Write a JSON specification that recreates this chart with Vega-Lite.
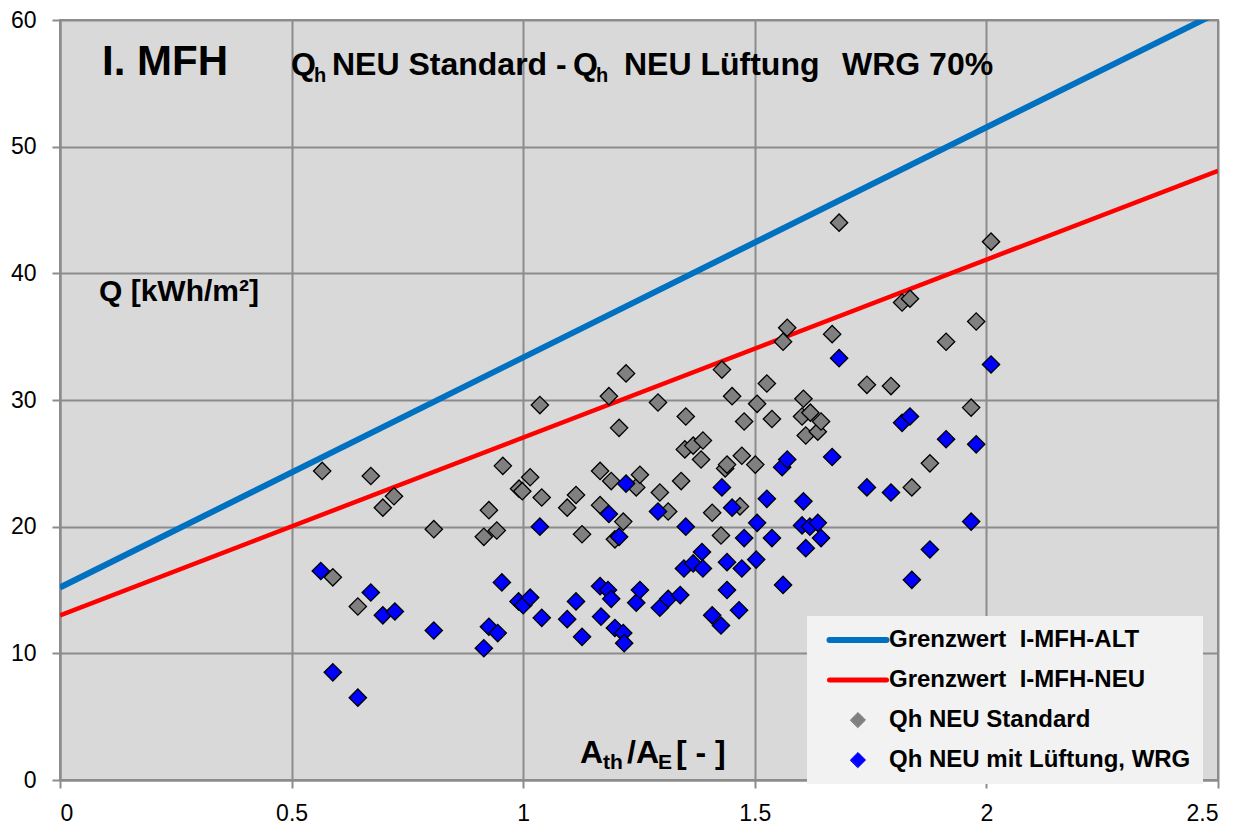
{
  "$schema": "https://vega.github.io/schema/vega-lite/v6.json",
  "width": 1158,
  "height": 760,
  "autosize": {"type": "none"},
  "padding": {"left": 60, "top": 20, "right": 29, "bottom": 45},
  "background": "white",
  "config": {
    "font": "Liberation Sans",
    "view": {"fill": "#d9d9d9", "stroke": "#8c8c8c", "strokeWidth": 2},
    "axis": {
      "domainColor": "#8c8c8c", "domainWidth": 2,
      "gridColor": "#8c8c8c", "gridWidth": 2, "gridOpacity": 1,
      "tickColor": "#8c8c8c", "tickWidth": 2, "tickSize": 8,
      "labelFont": "Liberation Sans", "labelFontSize": 23, "labelColor": "black",
      "title": null
    }
  },
  "datasets": {
    "lines": [
      {"series": "Grenzwert\u00a0 I-MFH-ALT", "x": 0, "y": 15.2},
      {"series": "Grenzwert\u00a0 I-MFH-ALT", "x": 2.5, "y": 60.6},
      {"series": "Grenzwert\u00a0 I-MFH-NEU", "x": 0, "y": 13.0},
      {"series": "Grenzwert\u00a0 I-MFH-NEU", "x": 2.5, "y": 48.1}
    ],
    "pts": [
      {"series": "Qh NEU Standard", "x": 0.566, "y": 24.4},
      {"series": "Qh NEU Standard", "x": 0.589, "y": 16.0},
      {"series": "Qh NEU Standard", "x": 0.643, "y": 13.7},
      {"series": "Qh NEU Standard", "x": 0.671, "y": 24.0},
      {"series": "Qh NEU Standard", "x": 0.697, "y": 21.5},
      {"series": "Qh NEU Standard", "x": 0.721, "y": 22.4},
      {"series": "Qh NEU Standard", "x": 0.807, "y": 19.8},
      {"series": "Qh NEU Standard", "x": 0.915, "y": 19.2},
      {"series": "Qh NEU Standard", "x": 0.926, "y": 21.3},
      {"series": "Qh NEU Standard", "x": 0.943, "y": 19.7},
      {"series": "Qh NEU Standard", "x": 0.956, "y": 24.8},
      {"series": "Qh NEU Standard", "x": 0.991, "y": 23.0},
      {"series": "Qh NEU Standard", "x": 0.998, "y": 22.8},
      {"series": "Qh NEU Standard", "x": 1.015, "y": 23.9},
      {"series": "Qh NEU Standard", "x": 1.036, "y": 29.6},
      {"series": "Qh NEU Standard", "x": 1.04, "y": 22.3},
      {"series": "Qh NEU Standard", "x": 1.095, "y": 21.5},
      {"series": "Qh NEU Standard", "x": 1.114, "y": 22.5},
      {"series": "Qh NEU Standard", "x": 1.127, "y": 19.4},
      {"series": "Qh NEU Standard", "x": 1.166, "y": 24.4},
      {"series": "Qh NEU Standard", "x": 1.166, "y": 21.7},
      {"series": "Qh NEU Standard", "x": 1.185, "y": 30.3},
      {"series": "Qh NEU Standard", "x": 1.19, "y": 23.6},
      {"series": "Qh NEU Standard", "x": 1.198, "y": 19.0},
      {"series": "Qh NEU Standard", "x": 1.207, "y": 27.8},
      {"series": "Qh NEU Standard", "x": 1.216, "y": 20.4},
      {"series": "Qh NEU Standard", "x": 1.222, "y": 32.1},
      {"series": "Qh NEU Standard", "x": 1.244, "y": 23.1},
      {"series": "Qh NEU Standard", "x": 1.252, "y": 24.1},
      {"series": "Qh NEU Standard", "x": 1.291, "y": 29.8},
      {"series": "Qh NEU Standard", "x": 1.295, "y": 22.7},
      {"series": "Qh NEU Standard", "x": 1.313, "y": 21.2},
      {"series": "Qh NEU Standard", "x": 1.341, "y": 23.6},
      {"series": "Qh NEU Standard", "x": 1.351, "y": 28.7},
      {"series": "Qh NEU Standard", "x": 1.349, "y": 26.1},
      {"series": "Qh NEU Standard", "x": 1.367, "y": 26.4},
      {"series": "Qh NEU Standard", "x": 1.388, "y": 26.8},
      {"series": "Qh NEU Standard", "x": 1.384, "y": 25.3},
      {"series": "Qh NEU Standard", "x": 1.408, "y": 21.1},
      {"series": "Qh NEU Standard", "x": 1.427, "y": 19.3},
      {"series": "Qh NEU Standard", "x": 1.429, "y": 32.4},
      {"series": "Qh NEU Standard", "x": 1.436, "y": 24.6},
      {"series": "Qh NEU Standard", "x": 1.44, "y": 24.9},
      {"series": "Qh NEU Standard", "x": 1.451, "y": 30.3},
      {"series": "Qh NEU Standard", "x": 1.468, "y": 21.6},
      {"series": "Qh NEU Standard", "x": 1.472, "y": 25.6},
      {"series": "Qh NEU Standard", "x": 1.477, "y": 28.3},
      {"series": "Qh NEU Standard", "x": 1.501, "y": 24.9},
      {"series": "Qh NEU Standard", "x": 1.505, "y": 29.7},
      {"series": "Qh NEU Standard", "x": 1.526, "y": 31.3},
      {"series": "Qh NEU Standard", "x": 1.537, "y": 28.5},
      {"series": "Qh NEU Standard", "x": 1.561, "y": 34.6},
      {"series": "Qh NEU Standard", "x": 1.57, "y": 35.7},
      {"series": "Qh NEU Standard", "x": 1.605, "y": 30.1},
      {"series": "Qh NEU Standard", "x": 1.602, "y": 28.7},
      {"series": "Qh NEU Standard", "x": 1.61, "y": 27.2},
      {"series": "Qh NEU Standard", "x": 1.62, "y": 29.0},
      {"series": "Qh NEU Standard", "x": 1.636, "y": 27.5},
      {"series": "Qh NEU Standard", "x": 1.643, "y": 28.3},
      {"series": "Qh NEU Standard", "x": 1.667, "y": 35.2},
      {"series": "Qh NEU Standard", "x": 1.682, "y": 44.0},
      {"series": "Qh NEU Standard", "x": 1.742, "y": 31.2},
      {"series": "Qh NEU Standard", "x": 1.794, "y": 31.1},
      {"series": "Qh NEU Standard", "x": 1.818, "y": 37.7},
      {"series": "Qh NEU Standard", "x": 1.835, "y": 38.0},
      {"series": "Qh NEU Standard", "x": 1.839, "y": 23.1},
      {"series": "Qh NEU Standard", "x": 1.878, "y": 25.0},
      {"series": "Qh NEU Standard", "x": 1.913, "y": 34.6},
      {"series": "Qh NEU Standard", "x": 1.967, "y": 29.4},
      {"series": "Qh NEU Standard", "x": 1.978, "y": 36.2},
      {"series": "Qh NEU Standard", "x": 2.01, "y": 42.5},
      {"series": "Qh NEU mit Lüftung, WRG", "x": 0.563, "y": 16.5},
      {"series": "Qh NEU mit Lüftung, WRG", "x": 0.589, "y": 8.5},
      {"series": "Qh NEU mit Lüftung, WRG", "x": 0.643, "y": 6.5},
      {"series": "Qh NEU mit Lüftung, WRG", "x": 0.671, "y": 14.8},
      {"series": "Qh NEU mit Lüftung, WRG", "x": 0.697, "y": 13.0},
      {"series": "Qh NEU mit Lüftung, WRG", "x": 0.723, "y": 13.3},
      {"series": "Qh NEU mit Lüftung, WRG", "x": 0.807, "y": 11.8},
      {"series": "Qh NEU mit Lüftung, WRG", "x": 0.915, "y": 10.4},
      {"series": "Qh NEU mit Lüftung, WRG", "x": 0.926, "y": 12.1},
      {"series": "Qh NEU mit Lüftung, WRG", "x": 0.945, "y": 11.6},
      {"series": "Qh NEU mit Lüftung, WRG", "x": 0.954, "y": 15.6},
      {"series": "Qh NEU mit Lüftung, WRG", "x": 0.99, "y": 14.1},
      {"series": "Qh NEU mit Lüftung, WRG", "x": 1.0, "y": 13.8},
      {"series": "Qh NEU mit Lüftung, WRG", "x": 1.015, "y": 14.4},
      {"series": "Qh NEU mit Lüftung, WRG", "x": 1.036, "y": 20.0},
      {"series": "Qh NEU mit Lüftung, WRG", "x": 1.04, "y": 12.8},
      {"series": "Qh NEU mit Lüftung, WRG", "x": 1.095, "y": 12.7},
      {"series": "Qh NEU mit Lüftung, WRG", "x": 1.114, "y": 14.1},
      {"series": "Qh NEU mit Lüftung, WRG", "x": 1.127, "y": 11.3},
      {"series": "Qh NEU mit Lüftung, WRG", "x": 1.166, "y": 15.3},
      {"series": "Qh NEU mit Lüftung, WRG", "x": 1.168, "y": 12.9},
      {"series": "Qh NEU mit Lüftung, WRG", "x": 1.183, "y": 15.0},
      {"series": "Qh NEU mit Lüftung, WRG", "x": 1.185, "y": 21.0},
      {"series": "Qh NEU mit Lüftung, WRG", "x": 1.19, "y": 14.3},
      {"series": "Qh NEU mit Lüftung, WRG", "x": 1.198, "y": 12.0},
      {"series": "Qh NEU mit Lüftung, WRG", "x": 1.207, "y": 19.2},
      {"series": "Qh NEU mit Lüftung, WRG", "x": 1.216, "y": 11.6},
      {"series": "Qh NEU mit Lüftung, WRG", "x": 1.218, "y": 10.8},
      {"series": "Qh NEU mit Lüftung, WRG", "x": 1.222, "y": 23.4},
      {"series": "Qh NEU mit Lüftung, WRG", "x": 1.244, "y": 14.0},
      {"series": "Qh NEU mit Lüftung, WRG", "x": 1.252, "y": 15.0},
      {"series": "Qh NEU mit Lüftung, WRG", "x": 1.291, "y": 21.2},
      {"series": "Qh NEU mit Lüftung, WRG", "x": 1.295, "y": 13.6},
      {"series": "Qh NEU mit Lüftung, WRG", "x": 1.313, "y": 14.3},
      {"series": "Qh NEU mit Lüftung, WRG", "x": 1.339, "y": 14.6},
      {"series": "Qh NEU mit Lüftung, WRG", "x": 1.347, "y": 16.7},
      {"series": "Qh NEU mit Lüftung, WRG", "x": 1.351, "y": 20.0},
      {"series": "Qh NEU mit Lüftung, WRG", "x": 1.367, "y": 17.1},
      {"series": "Qh NEU mit Lüftung, WRG", "x": 1.386, "y": 18.0},
      {"series": "Qh NEU mit Lüftung, WRG", "x": 1.388, "y": 16.7},
      {"series": "Qh NEU mit Lüftung, WRG", "x": 1.408, "y": 13.0},
      {"series": "Qh NEU mit Lüftung, WRG", "x": 1.427, "y": 12.2},
      {"series": "Qh NEU mit Lüftung, WRG", "x": 1.429, "y": 23.1},
      {"series": "Qh NEU mit Lüftung, WRG", "x": 1.44, "y": 17.2},
      {"series": "Qh NEU mit Lüftung, WRG", "x": 1.44, "y": 15.0},
      {"series": "Qh NEU mit Lüftung, WRG", "x": 1.451, "y": 21.5},
      {"series": "Qh NEU mit Lüftung, WRG", "x": 1.466, "y": 13.4},
      {"series": "Qh NEU mit Lüftung, WRG", "x": 1.472, "y": 16.7},
      {"series": "Qh NEU mit Lüftung, WRG", "x": 1.477, "y": 19.1},
      {"series": "Qh NEU mit Lüftung, WRG", "x": 1.503, "y": 17.4},
      {"series": "Qh NEU mit Lüftung, WRG", "x": 1.505, "y": 20.3},
      {"series": "Qh NEU mit Lüftung, WRG", "x": 1.526, "y": 22.2},
      {"series": "Qh NEU mit Lüftung, WRG", "x": 1.537, "y": 19.1},
      {"series": "Qh NEU mit Lüftung, WRG", "x": 1.559, "y": 24.7},
      {"series": "Qh NEU mit Lüftung, WRG", "x": 1.561, "y": 15.4},
      {"series": "Qh NEU mit Lüftung, WRG", "x": 1.57, "y": 25.3},
      {"series": "Qh NEU mit Lüftung, WRG", "x": 1.602, "y": 20.1},
      {"series": "Qh NEU mit Lüftung, WRG", "x": 1.605, "y": 22.0},
      {"series": "Qh NEU mit Lüftung, WRG", "x": 1.61, "y": 18.3},
      {"series": "Qh NEU mit Lüftung, WRG", "x": 1.619, "y": 20.0},
      {"series": "Qh NEU mit Lüftung, WRG", "x": 1.636, "y": 20.3},
      {"series": "Qh NEU mit Lüftung, WRG", "x": 1.643, "y": 19.1},
      {"series": "Qh NEU mit Lüftung, WRG", "x": 1.667, "y": 25.5},
      {"series": "Qh NEU mit Lüftung, WRG", "x": 1.682, "y": 33.3},
      {"series": "Qh NEU mit Lüftung, WRG", "x": 1.742, "y": 23.1},
      {"series": "Qh NEU mit Lüftung, WRG", "x": 1.794, "y": 22.7},
      {"series": "Qh NEU mit Lüftung, WRG", "x": 1.818, "y": 28.2},
      {"series": "Qh NEU mit Lüftung, WRG", "x": 1.835, "y": 28.7},
      {"series": "Qh NEU mit Lüftung, WRG", "x": 1.839, "y": 15.8},
      {"series": "Qh NEU mit Lüftung, WRG", "x": 1.878, "y": 18.2},
      {"series": "Qh NEU mit Lüftung, WRG", "x": 1.913, "y": 26.9},
      {"series": "Qh NEU mit Lüftung, WRG", "x": 1.967, "y": 20.4},
      {"series": "Qh NEU mit Lüftung, WRG", "x": 1.978, "y": 26.5},
      {"series": "Qh NEU mit Lüftung, WRG", "x": 2.01, "y": 32.8}
    ]
  },
  "encoding": {
    "x": {"type": "quantitative", "scale": {"domain": [0, 2.5], "nice": false, "zero": false},
          "axis": {"values": [0, 0.5, 1, 1.5, 2, 2.5], "format": "~g", "labelPadding": 14, "grid": true}},
    "y": {"type": "quantitative", "scale": {"domain": [0, 60], "nice": false},
          "axis": {"values": [0, 10, 20, 30, 40, 50, 60], "labelPadding": 16, "grid": true}}
  },
  "layer": [
    {
      "data": {"name": "lines"},
      "mark": {"type": "line", "clip": true, "strokeCap": "butt"},
      "encoding": {
        "x": {"field": "x", "type": "quantitative"},
        "y": {"field": "y", "type": "quantitative"},
        "color": {"field": "series", "type": "nominal",
          "scale": {"domain": ["Grenzwert\u00a0 I-MFH-ALT", "Grenzwert\u00a0 I-MFH-NEU", "Qh NEU Standard", "Qh NEU mit Lüftung, WRG"],
                    "range": ["#0070c0", "#ff0000", "#808080", "#0000ff"]},
          "legend": {
            "orient": "none", "legendX": 747, "legendY": 596, "title": null,
            "fillColor": "#f2f2f2", "strokeColor": null, "padding": 12,
            "labelFont": "Liberation Sans", "labelFontSize": 24, "labelFontWeight": "bold", "labelColor": "black",
            "labelOffset": 19, "symbolOffset": 27, "rowPadding": 16, "symbolSize": 225, "labelLimit": 500,
            "encode": {"symbols": {"update": {
              "stroke": {"signal": "datum.index == 0 ? '#0070c0' : datum.index == 1 ? '#ff0000' : 'black'"},
              "strokeWidth": {"signal": "datum.index == 0 ? 6 : datum.index == 1 ? 5 : 1"},
              "size": {"value": 225},
              "strokeCap": {"value": "round"},
              "opacity": {"value": 1}
            }}}
          }
        },
        "strokeWidth": {"field": "series", "type": "nominal", "scale": {"domain": ["Grenzwert\u00a0 I-MFH-ALT", "Grenzwert\u00a0 I-MFH-NEU"], "range": [6, 4.5]}, "legend": null}
      }
    },
    {
      "data": {"name": "pts"},
      "mark": {"type": "point", "filled": true, "opacity": 1, "stroke": "black", "strokeWidth": 1.3, "size": 300},
      "encoding": {
        "x": {"field": "x", "type": "quantitative"},
        "y": {"field": "y", "type": "quantitative"},
        "color": {"field": "series", "type": "nominal"},
        "shape": {"field": "series", "type": "nominal",
          "scale": {"domain": ["Grenzwert\u00a0 I-MFH-ALT", "Grenzwert\u00a0 I-MFH-NEU", "Qh NEU Standard", "Qh NEU mit Lüftung, WRG"],
                    "range": ["M-3.8,0H3.8", "M-3.8,0H3.8", "diamond", "diamond"]}}
      }
    },
    {"data": {"values": [{"t": "I. MFH"}]}, "mark": {"type": "text", "align": "left", "baseline": "alphabetic", "fontSize": 42, "fontWeight": "bold", "color": "black"},
     "encoding": {"x": {"datum": 0.0907}, "y": {"datum": 55.66}, "text": {"field": "t"}}},
    {"data": {"values": [{"t": "Q"}]}, "mark": {"type": "text", "align": "left", "baseline": "alphabetic", "fontSize": 32, "fontWeight": "bold", "color": "black"},
     "encoding": {"x": {"datum": 0.4987}, "y": {"datum": 55.66}, "text": {"field": "t"}}},
    {"data": {"values": [{"t": "h"}]}, "mark": {"type": "text", "align": "left", "baseline": "alphabetic", "fontSize": 20, "fontWeight": "bold", "color": "black"},
     "encoding": {"x": {"datum": 0.5484}, "y": {"datum": 55.10}, "text": {"field": "t"}}},
    {"data": {"values": [{"t": "NEU Standard -"}]}, "mark": {"type": "text", "align": "left", "baseline": "alphabetic", "fontSize": 32, "fontWeight": "bold", "color": "black"},
     "encoding": {"x": {"datum": 0.5872}, "y": {"datum": 55.66}, "text": {"field": "t"}}},
    {"data": {"values": [{"t": "Q"}]}, "mark": {"type": "text", "align": "left", "baseline": "alphabetic", "fontSize": 32, "fontWeight": "bold", "color": "black"},
     "encoding": {"x": {"datum": 1.1075}, "y": {"datum": 55.66}, "text": {"field": "t"}}},
    {"data": {"values": [{"t": "h"}]}, "mark": {"type": "text", "align": "left", "baseline": "alphabetic", "fontSize": 20, "fontWeight": "bold", "color": "black"},
     "encoding": {"x": {"datum": 1.1572}, "y": {"datum": 55.10}, "text": {"field": "t"}}},
    {"data": {"values": [{"t": "NEU Lüftung"}]}, "mark": {"type": "text", "align": "left", "baseline": "alphabetic", "fontSize": 32, "fontWeight": "bold", "color": "black"},
     "encoding": {"x": {"datum": 1.2176}, "y": {"datum": 55.66}, "text": {"field": "t"}}},
    {"data": {"values": [{"t": "WRG 70%"}]}, "mark": {"type": "text", "align": "left", "baseline": "alphabetic", "fontSize": 32, "fontWeight": "bold", "color": "black"},
     "encoding": {"x": {"datum": 1.6883}, "y": {"datum": 55.66}, "text": {"field": "t"}}},
    {"data": {"values": [{"t": "Q [kWh/m²]"}]}, "mark": {"type": "text", "align": "left", "baseline": "alphabetic", "fontSize": 30, "fontWeight": "bold", "color": "black"},
     "encoding": {"x": {"datum": 0.0842}, "y": {"datum": 37.81}, "text": {"field": "t"}}},
    {"data": {"values": [{"t": "A"}]}, "mark": {"type": "text", "align": "left", "baseline": "alphabetic", "fontSize": 32, "fontWeight": "bold", "color": "black"},
     "encoding": {"x": {"datum": 1.1226}, "y": {"datum": 1.342}, "text": {"field": "t"}}},
    {"data": {"values": [{"t": "th"}]}, "mark": {"type": "text", "align": "left", "baseline": "alphabetic", "fontSize": 21, "fontWeight": "bold", "color": "black"},
     "encoding": {"x": {"datum": 1.1723}, "y": {"datum": 0.868}, "text": {"field": "t"}}},
    {"data": {"values": [{"t": "/A"}]}, "mark": {"type": "text", "align": "left", "baseline": "alphabetic", "fontSize": 32, "fontWeight": "bold", "color": "black"},
     "encoding": {"x": {"datum": 1.2241}, "y": {"datum": 1.342}, "text": {"field": "t"}}},
    {"data": {"values": [{"t": "E"}]}, "mark": {"type": "text", "align": "left", "baseline": "alphabetic", "fontSize": 21, "fontWeight": "bold", "color": "black"},
     "encoding": {"x": {"datum": 1.2910}, "y": {"datum": 0.868}, "text": {"field": "t"}}},
    {"data": {"values": [{"t": "[ - ]"}]}, "mark": {"type": "text", "align": "left", "baseline": "alphabetic", "fontSize": 32, "fontWeight": "bold", "color": "black"},
     "encoding": {"x": {"datum": 1.3299}, "y": {"datum": 1.342}, "text": {"field": "t"}}}
  ]
}
